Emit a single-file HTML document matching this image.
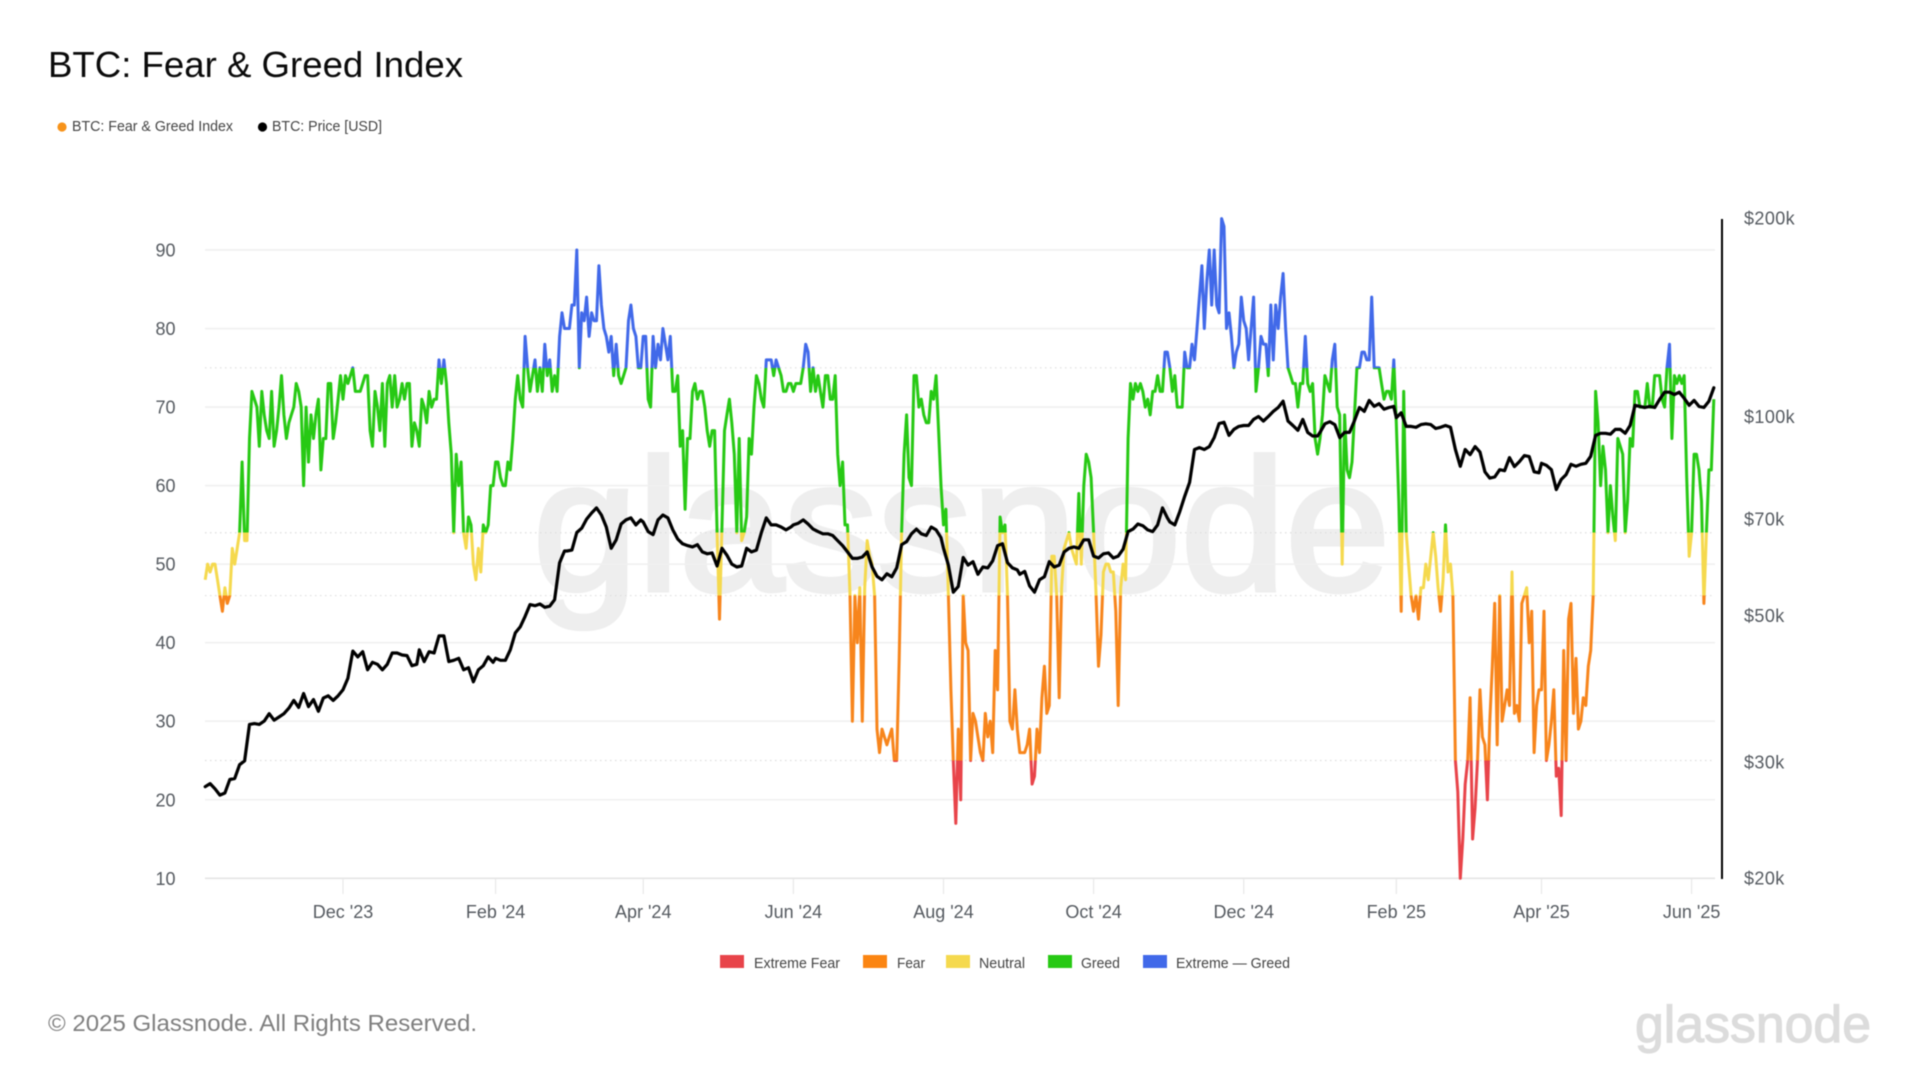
<!DOCTYPE html>
<html lang="en">
<head>
<meta charset="utf-8">
<title>BTC: Fear &amp; Greed Index</title>
<style>
html,body{margin:0;padding:0;background:#fff;width:1920px;height:1080px;overflow:hidden}
svg{display:block;filter:blur(.45px);font-family:"Liberation Sans",sans-serif}
</style>
</head>
<body>
<svg id="chart" xmlns="http://www.w3.org/2000/svg" width="1920" height="1080" viewBox="0 0 1920 1080">
  <rect width="1920" height="1080" fill="#fff"/>
  <text x="48" y="77" font-size="36" fill="#0b0b0b" textLength="415" lengthAdjust="spacingAndGlyphs">BTC: Fear &amp; Greed Index</text>

  <g>
    <g>
      <circle cx="62" cy="127" r="4.6" fill="#f7931a"/>
      <text x="72" y="131" font-size="15" fill="#444" textLength="161" lengthAdjust="spacingAndGlyphs">BTC: Fear &amp; Greed Index</text>
    </g>
    <g>
      <circle cx="262.500" cy="127" r="4.6" fill="#000"/>
      <text x="272" y="131" font-size="15" fill="#444" textLength="110" lengthAdjust="spacingAndGlyphs">BTC: Price [USD]</text>
    </g>
  </g>

  <text x="533" y="590" font-size="187" fill="#eeeeee" stroke="#eeeeee" stroke-width="5" textLength="857" lengthAdjust="spacingAndGlyphs">glassnode</text>

  <g id="grid"></g>
  <g id="axes"></g>
  <defs id="defs"></defs>
  <g id="marks"></g>

  <g>
    <g>
      <rect x="720" y="955" width="24" height="13" fill="#e8444a"/>
      <text x="754" y="968" font-size="15" fill="#444" textLength="86" lengthAdjust="spacingAndGlyphs">Extreme Fear</text>
    </g>
    <g>
      <rect x="863" y="955" width="24" height="13" fill="#fb8512"/>
      <text x="897" y="968" font-size="15" fill="#444" textLength="28" lengthAdjust="spacingAndGlyphs">Fear</text>
    </g>
    <g>
      <rect x="946" y="955" width="24" height="13" fill="#f5d94e"/>
      <text x="979" y="968" font-size="15" fill="#444" textLength="46" lengthAdjust="spacingAndGlyphs">Neutral</text>
    </g>
    <g>
      <rect x="1048" y="955" width="24" height="13" fill="#27c914"/>
      <text x="1081" y="968" font-size="15" fill="#444" textLength="39" lengthAdjust="spacingAndGlyphs">Greed</text>
    </g>
    <g>
      <rect x="1143" y="955" width="24" height="13" fill="#4169e9"/>
      <text x="1176" y="968" font-size="15" fill="#444" textLength="114" lengthAdjust="spacingAndGlyphs">Extreme — Greed</text>
    </g>
  </g>

  <text x="48" y="1031" font-size="23.5" fill="#7f7f7f" textLength="429" lengthAdjust="spacingAndGlyphs">© 2025 Glassnode. All Rights Reserved.</text>
  <text x="1635" y="1042" font-size="52" fill="#dcdcdc" stroke="#dcdcdc" stroke-width="1.2" textLength="236" lengthAdjust="spacingAndGlyphs">glassnode</text>
</svg>

<script>
// ---- Axis ticks ----
const fgiTicks = [90, 80, 70, 60, 50, 40, 30, 20, 10];
const zoneThresholds = [75, 54, 46, 25];
const zoneColors = ['#4169e9', '#27c914', '#f5d94e', '#f7851c', '#e8444a'];
const priceTicks = [200, 100, 70, 50, 30, 20];
const priceTickLabels = ['$200k', '$100k', '$70k', '$50k', '$30k', '$20k'];
const timeTicks = ['2023-12-01', '2024-02-01', '2024-04-01', '2024-06-01', '2024-08-01', '2024-10-01', '2024-12-01', '2025-02-01', '2025-04-01', '2025-06-01'];
const timeTickLabels = ["Dec '23", "Feb '24", "Apr '24", "Jun '24", "Aug '24", "Oct '24", "Dec '24", "Feb '25", "Apr '25", "Jun '25"];

// ---- Fear & Greed index: one value per day, grouped by month ----
const fgiOct23 = [48,50,49,50,50,48,46,44,47,45,46,52,50,52,54,63,53,53,66,72,71,70,65,72,69,67];
const fgiNov23 = [66,72,65,67,70,74,69,66,68,69,70,73,72,70,60,70,63,69,66,69,71,62,66,66,73,73,66,68,71,74];
const fgiDec23 = [71,74,73,74,75,72,72,72,73,74,74,67,65,72,70,67,73,65,73,74,70,74,70,71,73,71,73,73,65,68,67];
const fgiJan24 = [65,71,70,68,72,70,71,71,76,73,76,73,68,64,54,64,60,63,54,52,56,55,50,48,52,49,55,54,55,60,60];
const fgiFeb24 = [63,63,61,60,60,63,62,66,71,74,71,70,79,75,72,74,76,72,75,72,78,74,76,72,74,72,79,82,80];
const fgiMar24 = [80,80,83,83,90,75,82,81,84,79,82,81,81,88,83,80,79,77,79,74,78,74,73,74,75,81,83,80,79,75,75];
const fgiApr24 = [79,79,71,70,79,75,78,76,80,78,76,79,72,72,74,65,67,57,66,66,72,73,71,72,72,70,67,65,67,67];
const fgiMay24 = [54,43,55,67,69,71,68,64,54,66,53,54,56,66,64,70,74,73,71,70,76,76,76,74,76,75,74,72,72,73,73];
const fgiJun24 = [72,73,73,73,75,78,77,72,75,72,74,72,70,74,74,71,71,74,64,60,63,55,55,46,30,46,40,47,30,47];
const fgiJul24 = [53,51,50,46,29,26,29,28,27,28,29,25,25,38,54,64,69,61,60,74,74,70,71,69,68,68,72,71,74,67,60];
const fgiAug24 = [55,57,46,34,25,17,29,20,46,40,39,25,31,30,28,26,25,31,28,30,26,39,34,56,54,55,46,30,29,34,29];
const fgiSep24 = [26,26,26,27,29,22,23,29,26,33,37,31,32,51,51,46,33,47,52,53,54,52,51,50,59,50,60,64,63,61];
const fgiOct24 = [54,46,37,41,49,50,50,49,49,44,32,47,50,48,66,73,71,73,72,73,72,70,71,69,72,72,74,72,72,77,77];
const fgiNov24 = [75,72,74,70,70,70,77,75,75,78,76,80,84,88,80,86,90,83,90,83,82,94,93,80,82,79,75,77,78,84];
const fgiDec24 = [81,80,76,80,84,72,75,79,78,78,74,83,76,83,80,84,87,80,75,74,73,73,70,73,73,79,73,72,73,66,64];
const fgiJan25 = [66,69,74,73,72,76,78,70,69,50,69,62,61,63,69,75,75,77,77,76,76,84,75,75,75,73,71,72,72,71,76];
const fgiFeb25 = [68,58,44,72,54,50,46,44,46,43,47,47,50,48,51,54,51,47,44,48,55,49,50,46,25,21,10,15];
const fgiMar25 = [22,25,33,15,19,25,34,28,27,20,30,37,45,27,46,30,32,34,32,49,31,32,30,45,46,47,40,44,26,32,34];
const fgiApr25 = [34,44,25,27,30,34,23,24,18,39,25,43,45,31,38,29,30,33,32,37,39,46,72,68,60,65,62,54,60,56];
const fgiMay25 = [53,66,65,64,54,58,66,65,72,72,70,70,70,73,70,70,74,74,74,71,70,75,78,66,74,73,74,73,74,61,51];
const fgiJun25 = [54,64,64,62,58,45,54,62,62,71];
const fgiStarts = ['2023-10-06','2023-11-01','2023-12-01','2024-01-01','2024-02-01','2024-03-01','2024-04-01','2024-05-01','2024-06-01','2024-07-01','2024-08-01','2024-09-01','2024-10-01','2024-11-01','2024-12-01','2025-01-01','2025-02-01','2025-03-01','2025-04-01','2025-05-01','2025-06-01'];
const fgiMonths = [fgiOct23,fgiNov23,fgiDec23,fgiJan24,fgiFeb24,fgiMar24,fgiApr24,fgiMay24,fgiJun24,fgiJul24,fgiAug24,fgiSep24,fgiOct24,fgiNov24,fgiDec24,fgiJan25,fgiFeb25,fgiMar25,fgiApr25,fgiMay25,fgiJun25];

// ---- BTC price in $k: one reading every two days, grouped by month ----
const priceStepDays = 2;
const priceOct23 = [27.6,27.9,27.4,26.8,27.0,28.3,28.4,29.8,30.2,34.3,34.4,34.3,34.7];
const priceNov23 = [35.6,34.8,35.2,35.6,36.3,37.3,36.4,38.2,36.5,37.4,35.9,37.6,37.9,37.3,37.9];
const priceDec23 = [38.7,40.3,44.3,43.4,44.2,41.5,42.6,42.3,41.5,42.3,44.0,44.0,43.7,43.6,42.1,42.3];
const priceJan24 = [44.5,42.7,44.2,44.0,46.7,46.7,42.7,42.9,43.2,41.5,41.8,39.8,41.5,42.1,43.4,42.6];
const priceFeb24 = [43.2,42.9,42.9,44.5,47.2,48.2,50.0,52.1,51.9,52.2,51.6,51.8,53.0,60.3,62.8];
const priceMar24 = [62.8,63.0,67.0,68.0,70.2,71.7,73.0,71.2,68.3,63.4,65.3,69.0,70.0,70.5,68.8,70.0];
const priceApr24 = [69.5,67.2,66.5,70.0,71.2,70.5,67.6,65.5,64.4,64.0,63.7,64.2,62.6,62.2,62.4];
const priceMay24 = [59.6,63.4,61.9,60.0,59.4,59.6,63.4,62.6,63.0,67.0,70.5,68.8,68.8,68.3,67.6,68.3];
const priceJun24 = [68.8,69.2,70.0,69.0,67.8,67.2,66.7,66.7,66.3,65.1,64.0,62.6,61.2,61.2,61.5];
const priceJul24 = [62.6,59.4,57.5,56.8,58.0,57.4,59.2,64.2,64.9,66.7,67.8,66.7,66.3,68.3,67.6,65.8];
const priceAug24 = [63.4,59.8,54.4,55.5,61.4,59.8,60.5,57.9,59.4,59.2,60.7,64.0,64.4,60.3,59.2,58.8];
const priceSep24 = [57.9,58.5,55.6,54.4,56.8,57.4,60.5,59.4,59.8,62.6,63.4,63.7,63.4,65.3,65.3];
const priceOct24 = [61.7,61.3,62.2,62.4,61.3,61.7,63.2,67.2,67.8,69.0,68.6,67.6,67.2,68.8,73.0,70.5];
const priceNov24 = [69.5,68.8,72.0,76.0,79.8,89.5,90.1,89.5,90.4,93.3,98.0,98.4,94.0,96.0,97.0];
const priceDec24 = [97.3,97.3,99.4,100.4,98.8,100.4,102.2,103.6,105.9,98.8,97.3,95.7,99.4,95.0,93.8,93.8];
const priceJan25 = [95.0,97.9,98.6,97.6,93.3,95.0,95.0,99.0,103.6,102.2,106.2,104.0,105.0,103.0,103.6,104.0];
const priceFeb25 = [100.0,101.7,97.0,97.0,96.7,97.6,97.9,97.6,96.3,96.7,97.3,96.7,89.5,84.4];
const priceMar25 = [89.5,87.9,90.4,88.7,82.8,81.0,81.3,83.4,83.1,87.0,84.3,85.8,87.6,87.3,82.8,82.5];
const priceApr25 = [85.3,84.7,83.4,77.8,80.6,82.0,85.0,84.4,85.0,85.3,87.4,94.0,94.7,94.7,94.4];
const priceMay25 = [96.0,96.0,94.7,97.3,104.4,104.0,103.6,104.0,103.6,106.6,109.3,109.3,108.4,109.3,107.0,104.4];
const priceJun25 = [106.2,104.0,103.6,105.9,111.0];
const priceStarts = ['2023-10-06','2023-11-01','2023-12-01','2024-01-01','2024-02-01','2024-03-01','2024-04-01','2024-05-01','2024-06-01','2024-07-01','2024-08-01','2024-09-01','2024-10-01','2024-11-01','2024-12-01','2025-01-01','2025-02-01','2025-03-01','2025-04-01','2025-05-01','2025-06-02'];
const priceMonths = [priceOct23,priceNov23,priceDec23,priceJan24,priceFeb24,priceMar24,priceApr24,priceMay24,priceJun24,priceJul24,priceAug24,priceSep24,priceOct24,priceNov24,priceDec24,priceJan25,priceFeb25,priceMar25,priceApr25,priceMay25,priceJun25];

// ---- Scales ----
const NS = 'http://www.w3.org/2000/svg';
const DAY = 86400000;
const plotLeft = 205, plotRight = 1715, plotBottom = 878.3;
function xScale(ms) { return 343 + (ms - Date.UTC(2023, 11, 1)) / DAY * 2.461; }
function yFgi(v) { return plotBottom - (v - 10) * 7.854; }
function yPrice(k) { return 879 - 660 * Math.log10(k / 20); }
function make(tag, attrs, parent) {
  const el = document.createElementNS(NS, tag);
  for (const key in attrs) el.setAttribute(key, attrs[key]);
  parent.appendChild(el);
  return el;
}
function linePath(starts, months, stepDays, yFn) {
  let d = '';
  months.forEach(function (values, m) {
    const t0 = Date.parse(starts[m] + 'T00:00:00Z');
    values.forEach(function (v, i) {
      const px = xScale(t0 + i * stepDays * DAY), py = yFn(v);
      d += (d ? 'L' : 'M') + px.toFixed(1) + ' ' + py.toFixed(1);
    });
  });
  return d;
}

const grid = document.getElementById('grid');
const axes = document.getElementById('axes');
const marks = document.getElementById('marks');
const defs = document.getElementById('defs');

// gridlines and left axis labels
fgiTicks.forEach(function (v) {
  const line = make('line', {x1: plotLeft, x2: plotRight, y1: yFgi(v), y2: yFgi(v), stroke: v === 10 ? '#e4e4e4' : '#f0f0f0', 'stroke-width': 1.6}, grid);
  
  
  const label = make('text', {x: 175.5, y: yFgi(v) + 6.5, 'text-anchor': 'end', 'font-size': 18, fill: '#555a60'}, axes);
  
  
  label.textContent = String(v);
});
zoneThresholds.forEach(function (v) {
  const line = make('line', {x1: plotLeft, x2: plotRight, y1: yFgi(v), y2: yFgi(v), stroke: '#dedede', 'stroke-width': 1.2, 'stroke-dasharray': '1.5 3.5'}, grid);
  
  
});

// x axis
timeTicks.forEach(function (t, i) {
  const px = xScale(Date.parse(t + 'T00:00:00Z'));
  const tick = make('line', {x1: px, x2: px, y1: plotBottom, y2: 894, stroke: '#e8e8e8', 'stroke-width': 1.2}, axes);
  
  
  const label = make('text', {x: px, y: 918, 'text-anchor': 'middle', 'font-size': 18, fill: '#555a60'}, axes);
  
  
  label.textContent = timeTickLabels[i];
});

// right axis
const rightAxis = make('line', {x1: 1722, x2: 1722, y1: yPrice(200), y2: yPrice(20), stroke: '#000', 'stroke-width': 2}, axes);


priceTicks.forEach(function (k, i) {
  const label = make('text', {x: 1744, y: yPrice(k) + 5.5, 'font-size': 18, 'letter-spacing': '0.4', fill: '#555a60'}, axes);
  
  
  label.textContent = priceTickLabels[i];
});

// threshold gradient for the index line
const gradTop = yFgi(100), gradBottom = yFgi(0);
const gradient = make('linearGradient', {id: 'zoneGradient', gradientUnits: 'userSpaceOnUse', x1: 0, x2: 0, y1: gradTop, y2: gradBottom}, defs);
function offset(v) { return (yFgi(v) - gradTop) / (gradBottom - gradTop); }
zoneColors.forEach(function (color, i) {
  const from = i === 0 ? 0 : offset(zoneThresholds[i - 1]);
  const to = i === zoneColors.length - 1 ? 1 : offset(zoneThresholds[i]);
  make('stop', {offset: from, 'stop-color': color}, gradient);
  make('stop', {offset: to, 'stop-color': color}, gradient);
});

// series
const fgiLine = make('path', {d: linePath(fgiStarts, fgiMonths, 1, yFgi), fill: 'none', stroke: 'url(#zoneGradient)', 'stroke-width': 3, 'stroke-linejoin': 'round', 'stroke-linecap': 'butt'}, marks);


const priceLine = make('path', {d: linePath(priceStarts, priceMonths, priceStepDays, yPrice), fill: 'none', stroke: '#000', 'stroke-width': 3.2, 'stroke-linejoin': 'round', 'stroke-linecap': 'round'}, marks);


</script>
</body>
</html>
